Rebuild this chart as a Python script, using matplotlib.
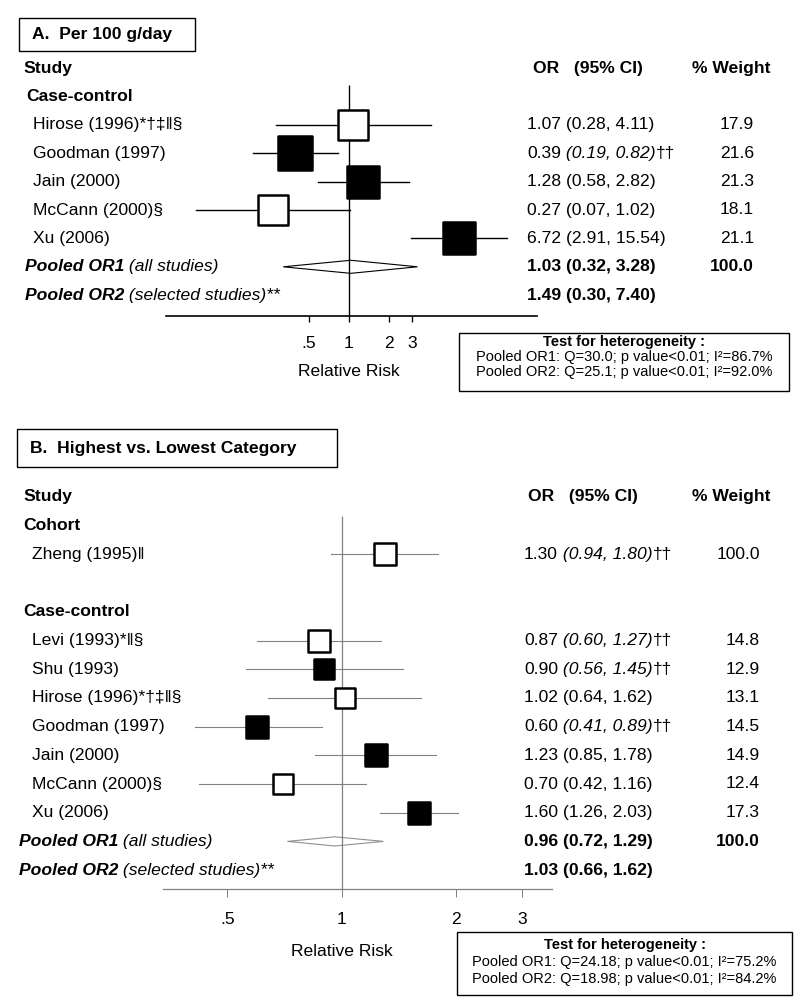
import matplotlib
matplotlib.use('Agg')
import matplotlib.pyplot as plt
import matplotlib.transforms as mtransforms
from matplotlib.patches import Rectangle
from matplotlib.ticker import NullLocator
import numpy as np

plt.rcParams['font.family'] = ['Liberation Sans', 'DejaVu Sans']

# ---- Panel A: per 100 g/day ----
a_group = 'Case-control'
a_names = ['Hirose (1996)*†‡‖§', 'Goodman (1997)', 'Jain (2000)', 'McCann (2000)§', 'Xu (2006)']
a_or = [1.07, 0.39, 1.28, 0.27, 6.72]
a_lo = [0.28, 0.19, 0.58, 0.07, 2.91]
a_hi = [4.11, 0.82, 2.82, 1.02, 15.54]
a_wt = [17.9, 21.6, 21.3, 18.1, 21.1]
a_selected = [False, True, True, False, True]
a_flag = [False, True, False, False, False]
a_pooled = [(1.03, 0.32, 3.28, 100.0), (1.49, 0.30, 7.40, None)]
a_het = ['Pooled OR1: Q=30.0; p value<0.01; I²=86.7%',
         'Pooled OR2: Q=25.1; p value<0.01; I²=92.0%']

# ---- Panel B: highest vs. lowest category ----
b_groups = ['Cohort', 'Case-control']
b_names = [['Zheng (1995)‖'],
           ['Levi (1993)*‖§', 'Shu (1993)', 'Hirose (1996)*†‡‖§', 'Goodman (1997)',
            'Jain (2000)', 'McCann (2000)§', 'Xu (2006)']]
b_or = [[1.30], [0.87, 0.90, 1.02, 0.60, 1.23, 0.70, 1.60]]
b_lo = [[0.94], [0.60, 0.56, 0.64, 0.41, 0.85, 0.42, 1.26]]
b_hi = [[1.80], [1.27, 1.45, 1.62, 0.89, 1.78, 1.16, 2.03]]
b_wt = [[100.0], [14.8, 12.9, 13.1, 14.5, 14.9, 12.4, 17.3]]
b_selected = [[False], [False, True, False, True, True, False, True]]
b_flag = [[True], [True, True, False, True, False, False, False]]
b_pooled = [(0.96, 0.72, 1.29, 100.0), (1.03, 0.66, 1.62, None)]
b_het = ['Pooled OR1: Q=24.18; p value<0.01; I²=75.2%',
         'Pooled OR2: Q=18.98; p value<0.01; I²=84.2%']

ticks = [0.5, 1, 2, 3]
tick_labels = ['.5', '1', '2', '3']

W, H = 800, 1000
FS = 12.6
fig = plt.figure(figsize=(8, 10), dpi=100)


def fx(px):
    return px / W


def fy(py):
    return 1 - py / H


def mixed(ax, x, y, parts, trans):
    prev = None
    for s, kw in parts:
        if prev is None:
            prev = ax.text(x, y, s, transform=trans, ha='left', va='center', fontsize=FS, **kw)
        else:
            prev = ax.annotate(s, xy=(1, 0), xycoords=prev, ha='left', va='bottom',
                               fontsize=FS, **kw)


def box(x0, y0, x1, y1):
    fig.add_artist(Rectangle((fx(x0), fy(y1)), fx(x1) - fx(x0), (y1 - y0) / H,
                             transform=fig.transFigure, fill=False, lw=1.0, ec='black'))


def panel(g, groups, names, ors, los, his, wts, sel, flags, pooled, het, title):
    ax = fig.add_axes([0, fy(g['axis']), 1, (g['axis'] - g['top']) / H])
    ax.set_xscale('log')
    ax.set_xlim(np.exp(-g['ref'] / g['k']), np.exp((W - g['ref']) / g['k']))
    ax.set_ylim((g['axis'] - g['row0']) / g['step'], (g['top'] - g['row0']) / g['step'])
    ax.patch.set_alpha(0)
    for s in ['top', 'left', 'right']:
        ax.spines[s].set_visible(False)
    ax.spines['bottom'].set_bounds(g['bounds'])
    ax.spines['bottom'].set_color(g['c'])
    ax.spines['bottom'].set_linewidth(g['axlw'])
    ax.set_yticks([])
    ax.set_xticks(ticks)
    ax.set_xticklabels(tick_labels, fontsize=FS)
    ax.xaxis.set_minor_locator(NullLocator())
    ax.tick_params(axis='x', direction='out', length=g['tlen'], width=g['axlw'] * 0.8,
                   color=g['c'], pad=g['pad'])
    ax.set_xlabel('Relative Risk', fontsize=FS, va='center')
    ax.xaxis.set_label_coords(1, -(g['lab'] - g['axis']) / (g['axis'] - g['top']),
                              transform=mtransforms.blended_transform_factory(ax.transData, ax.transAxes))

    tr = mtransforms.blended_transform_factory(ax.transAxes, ax.transData)
    ax.text(fx(g['hx']), 0, 'Study', transform=tr, fontsize=FS, weight='bold', va='center')
    ax.text(fx(g['orhx']), 0, 'OR   (95% CI)', transform=tr, fontsize=FS, weight='bold', va='center')
    ax.text(fx(g['whx']), 0, '% Weight', transform=tr, fontsize=FS, weight='bold', va='center',
            ha='right')

    r = 1
    for gi, gname in enumerate(groups):
        ax.text(fx(g['gx']), r, gname, transform=tr, fontsize=FS, weight='bold', va='center')
        r += 1
        for i, name in enumerate(names[gi]):
            ax.text(fx(g['sx']), r, name, transform=tr, fontsize=FS, va='center')
            ax.plot([los[gi][i], his[gi][i]], [r, r], color=g['c'], lw=g['cilw'], zorder=2)
            side = g['bk'] * np.sqrt(min(wts[gi][i], g['wcap'])) * 0.72
            ax.scatter([ors[gi][i]], [r], marker='s', s=side ** 2,
                       facecolor='black' if sel[gi][i] else 'white',
                       edgecolor='black', linewidths=1.8, zorder=4)
            est = '%.2f' % ors[gi][i]
            ci = '(%.2f, %.2f)' % (los[gi][i], his[gi][i])
            if flags[gi][i]:
                mixed(ax, fx(g['orx']), r, [(est, {}), (' ' + ci, {'style': 'italic'}), ('††', {})], tr)
            else:
                ax.text(fx(g['orx']), r, est + ' ' + ci, transform=tr, fontsize=FS, va='center')
            ax.text(fx(g['wx']), r, '%.1f' % wts[gi][i], transform=tr, fontsize=FS,
                    va='center', ha='right')
            r += 1
        if gi < len(groups) - 1:
            r += 1

    for j, (est, lo, hi, wt) in enumerate(pooled):
        sub = ' (all studies)' if j == 0 else ' (selected studies)**'
        mixed(ax, fx(g['px']), r, [('Pooled OR%d' % (j + 1), {'weight': 'bold', 'style': 'italic'}),
                                   (sub, {'style': 'italic'})], tr)
        ax.text(fx(g['orx']), r, '%.2f (%.2f, %.2f)' % (est, lo, hi), transform=tr, fontsize=FS,
                weight='bold', va='center')
        if wt is not None:
            ax.text(fx(g['wx']), r, '%.1f' % wt, transform=tr, fontsize=FS, weight='bold',
                    va='center', ha='right')
            h = g['dh']
            ax.fill([lo, est, hi, est], [r, r - h, r, r + h], facecolor='none',
                    edgecolor=g['dc'], lw=0.8, zorder=3)
        r += 1

    ax.vlines(1, (g['vtop'] - g['row0']) / g['step'], ax.get_ylim()[0], color=g['c'],
              lw=g['vlw'], zorder=3)

    # title box
    tb = g['tbox']
    box(*tb)
    fig.text(fx(tb[0] + 13), fy((tb[1] + tb[3]) / 2), title, fontsize=FS, weight='bold',
             va='center', ha='left')
    # heterogeneity box
    hb = g['hbox']
    box(*hb)
    cx = fx((hb[0] + hb[2]) / 2)
    fig.text(cx, fy(g['hy'][0]), 'Test for heterogeneity :', fontsize=10.5, weight='bold',
             ha='center', va='center')
    for line, yy in zip(het, g['hy'][1:]):
        fig.text(cx, fy(yy), line, fontsize=10.5, ha='center', va='center')
    return ax


geo_a = dict(top=55, axis=316, row0=68, step=28.4, ref=349, k=57.7, bounds=(0.0419, 26.0),
             c='black', axlw=1.2, tlen=4.3, pad=10.4, lab=371.5, cilw=1.0, vlw=1.0,
             hx=23, gx=26, sx=33, px=25, orx=527, orhx=533, wx=754, whx=771, dh=0.23, dc='black',
             bk=7.15, wcap=100, vtop=85, tbox=(19, 18, 195, 51), hbox=(459, 333, 789, 391),
             hy=(342, 357, 372))
geo_b = dict(top=480, axis=889, row0=497, step=28.7, ref=341.5, k=164.5, bounds=(0.338, 3.595),
             c='#808080', axlw=0.9, tlen=5.8, pad=10.4, lab=951.5, cilw=0.8, vlw=0.9,
             hx=23, gx=23, sx=32, px=19, orx=524, orhx=528, wx=760, whx=771, dh=0.16, dc='#909090',
             bk=5.7, wcap=14.3, vtop=516, tbox=(17, 429, 337, 467), hbox=(457, 932, 792, 995),
             hy=(945, 962, 979))

axa = panel(geo_a, [a_group], [a_names], [a_or], [a_lo], [a_hi], [a_wt], [a_selected], [a_flag],
            a_pooled, a_het, 'A.  Per 100 g/day')
axb = panel(geo_b, b_groups, b_names, b_or, b_lo, b_hi, b_wt, b_selected, b_flag,
            b_pooled, b_het, 'B.  Highest vs. Lowest Category')

fig.savefig('out.png', dpi=100)
